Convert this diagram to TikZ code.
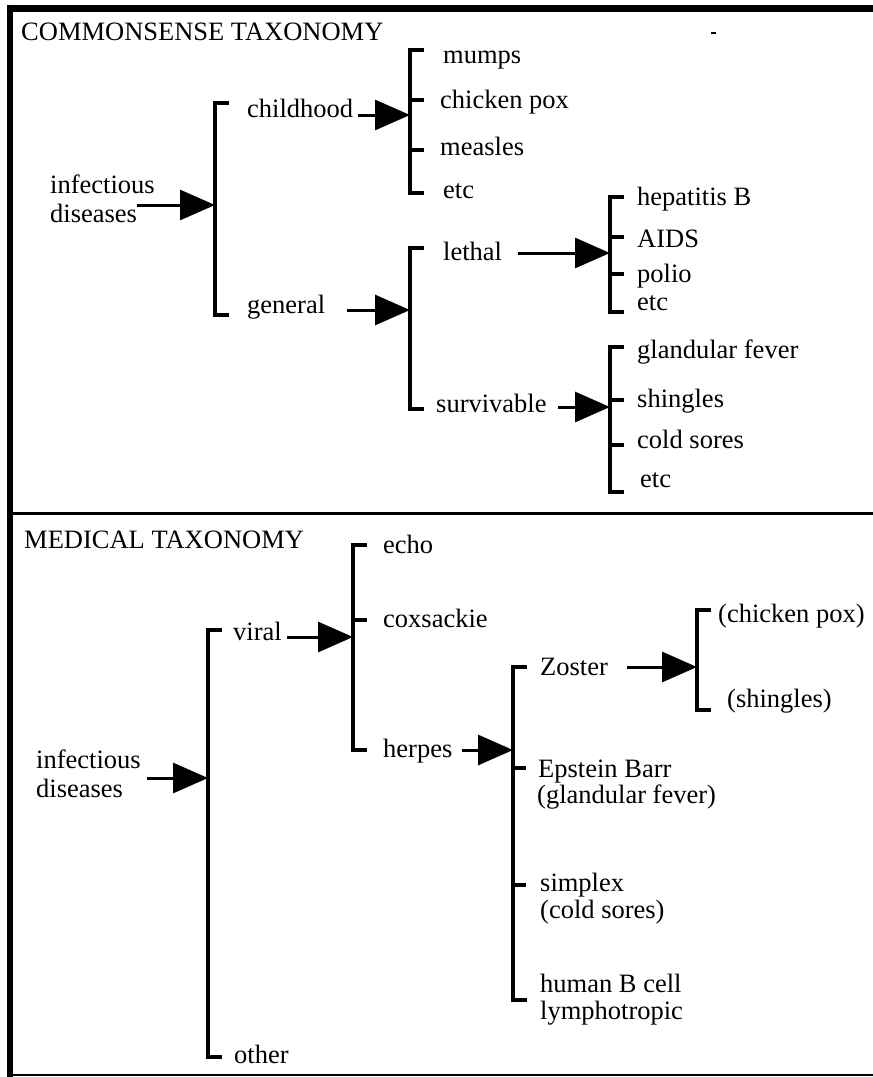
\documentclass[tikz,border=0pt]{standalone}
\usepackage{fontspec}
\setmainfont{Liberation Serif}
\usetikzlibrary{arrows.meta,calc}

\tikzset{
  lbl/.style={anchor=base west, inner sep=0pt, font=\fontsize{26.5}{29}\selectfont},
  brk/.style={line width=4pt, line join=miter, line cap=butt},
  arr/.style={line width=3pt, -{Triangle[length=35pt,width=30pt]}},
}

% draws a bracket: top point, bottom point (vertical spine) with end ticks
\newcommand{\bracketpath}[2]{\draw[brk] ($(#1)+(14,0)$) -- (#1) -- (#2) -- ++(14,0);}

\begin{document}
\begin{tikzpicture}[x=1pt,y=-1pt]
\useasboundingbox (0,0) rectangle (873,1077);

% ---------- frame ----------
\draw[line width=7pt] (7,8) -- (873,8);
\draw[line width=6pt] (10,4.5) -- (10,1077);
\draw[line width=3pt] (10,513.5) -- (873,513.5);
\draw[line width=2pt] (10,1075) -- (873,1075);
\draw[line width=2pt] (711,33) -- (716,33);

% ================= COMMONSENSE TAXONOMY =================
\node[lbl] (titleA) at (21,40) {COMMONSENSE TAXONOMY};

\node[lbl] (infA1) at (50,193) {infectious};
\node[lbl] (infA2) at (50,222) {diseases};

\node[lbl] (child) at (247,117) {childhood};
\node[lbl] (gen)   at (247,313) {general};

\node[lbl] (mumps)   at (443,63)  {mumps};
\node[lbl] (cpox)    at (440,108) {chicken pox};
\node[lbl] (measles) at (440,155) {measles};
\node[lbl] (etcA)    at (443,198) {etc};

\node[lbl] (lethal) at (443,260) {lethal};
\node[lbl] (surv)   at (436,412) {survivable};

\node[lbl] (hepB)  at (637,205) {hepatitis B};
\node[lbl] (aids)  at (637,247) {AIDS};
\node[lbl] (polio) at (637,282) {polio};
\node[lbl] (etcB)  at (637,310) {etc};

\node[lbl] (gfever)   at (637,358) {glandular fever};
\node[lbl] (shingles) at (637,407) {shingles};
\node[lbl] (csores)   at (637,448) {cold sores};
\node[lbl] (etcC)     at (640,487) {etc};

% brackets
\coordinate (rA-t) at (215,103); \coordinate (rA-b) at (215,315);
\bracketpath{rA-t}{rA-b}
\coordinate (ch-t) at (410,50);  \coordinate (ch-b) at (410,193);
\bracketpath{ch-t}{ch-b}
\draw[brk] (410,100) -- ++(14,0);
\draw[brk] (410,150) -- ++(14,0);
\coordinate (ge-t) at (410,248); \coordinate (ge-b) at (410,409);
\bracketpath{ge-t}{ge-b}
\coordinate (le-t) at (610,197); \coordinate (le-b) at (610,312);
\bracketpath{le-t}{le-b}
\draw[brk] (610,237) -- ++(14,0);
\draw[brk] (610,274) -- ++(14,0);
\coordinate (su-t) at (610,347); \coordinate (su-b) at (610,492);
\bracketpath{su-t}{su-b}
\draw[brk] (610,400) -- ++(14,0);
\draw[brk] (610,445) -- ++(14,0);

% arrows
\coordinate (aA-s) at (137,205); \coordinate (aA-e) at (215,205);
\draw[arr] (aA-s) -- (aA-e);
\coordinate (aCh-s) at (358,115); \coordinate (aCh-e) at (410,115);
\draw[arr] (aCh-s) -- (aCh-e);
\coordinate (aGe-s) at (347,310); \coordinate (aGe-e) at (410,310);
\draw[arr] (aGe-s) -- (aGe-e);
\coordinate (aLe-s) at (518,253); \coordinate (aLe-e) at (610,253);
\draw[arr] (aLe-s) -- (aLe-e);
\coordinate (aSu-s) at (558,407); \coordinate (aSu-e) at (610,407);
\draw[arr] (aSu-s) -- (aSu-e);

% ================= MEDICAL TAXONOMY =================
\node[lbl] (titleB) at (24,548) {MEDICAL TAXONOMY};

\node[lbl] (infB1) at (36,768) {infectious};
\node[lbl] (infB2) at (36,797) {diseases};

\node[lbl] (viral) at (233,640)  {viral};
\node[lbl] (other) at (234,1063) {other};

\node[lbl] (echo)   at (383,553) {echo};
\node[lbl] (coxs)   at (383,627) {coxsackie};
\node[lbl] (herpes) at (383,757) {herpes};

\node[lbl] (zoster)  at (540,675)  {Zoster};
\node[lbl] (ebarr)   at (538,777)  {Epstein Barr};
\node[lbl] (gfev2)   at (537,803)  {(glandular fever)};
\node[lbl] (simplex) at (540,891)  {simplex};
\node[lbl] (csor2)   at (540,918)  {(cold sores)};
\node[lbl] (hbcell)  at (540,992)  {human B cell};
\node[lbl] (lympho)  at (540,1019) {lymphotropic};

\node[lbl] (cpox2)  at (718,622) {(chicken pox)};
\node[lbl] (shing2) at (727,707) {(shingles)};

% brackets
\coordinate (rB-t) at (208,630); \coordinate (rB-b) at (208,1057);
\bracketpath{rB-t}{rB-b}
\coordinate (vi-t) at (353,545); \coordinate (vi-b) at (353,750);
\bracketpath{vi-t}{vi-b}
\draw[brk] (353,620) -- ++(14,0);
\coordinate (he-t) at (513,667); \coordinate (he-b) at (513,1000);
\bracketpath{he-t}{he-b}
\draw[brk] (513,768) -- ++(13,0);
\draw[brk] (513,885) -- ++(13,0);
\coordinate (zo-t) at (697,610); \coordinate (zo-b) at (697,710);
\bracketpath{zo-t}{zo-b}

% arrows
\coordinate (aB-s) at (147,778); \coordinate (aB-e) at (208,778);
\draw[arr] (aB-s) -- (aB-e);
\coordinate (aVi-s) at (287,637); \coordinate (aVi-e) at (353,637);
\draw[arr] (aVi-s) -- (aVi-e);
\coordinate (aHe-s) at (462,750); \coordinate (aHe-e) at (513,750);
\draw[arr] (aHe-s) -- (aHe-e);
\coordinate (aZo-s) at (627,667); \coordinate (aZo-e) at (697,667);
\draw[arr] (aZo-s) -- (aZo-e);
\end{tikzpicture}
\end{document}
